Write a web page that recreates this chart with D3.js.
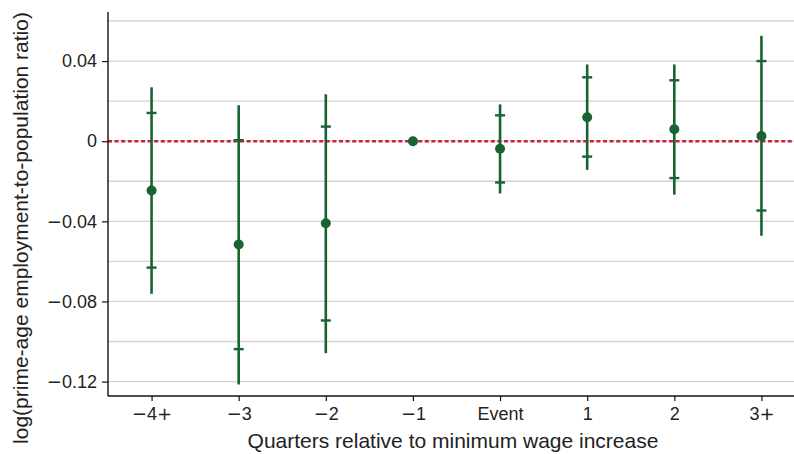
<!DOCTYPE html>
<html><head><meta charset="utf-8">
<script src="https://cdn.jsdelivr.net/npm/d3@7"></script>
<style>
html,body{margin:0;padding:0;background:#fff;}
svg{display:block;font-family:"Liberation Sans",Arial,Helvetica,sans-serif;}
</style></head>
<body>
<svg id="c" width="794" height="454"></svg>
<script>
const categories = ["\u22124+", "\u22123", "\u22122", "\u22121", "Event", "1", "2", "3+"];
const estimates = [-0.0246, -0.0516, -0.0410, 0, -0.0038, 0.0120, 0.0060, 0.0026];
const ci95Low  = [-0.0762, -0.1214, -0.1058, null, -0.0261, -0.0143, -0.0267, -0.0472];
const ci95High = [0.0269, 0.0179, 0.0234, null, 0.0184, 0.0383, 0.0383, 0.0526];
const ci90Low  = [-0.0631, -0.1038, -0.0895, null, -0.0206, -0.0077, -0.0184, -0.0346];
const ci90High = [0.0141, 0.0005, 0.0073, null, 0.0129, 0.0319, 0.0304, 0.0400];
const yTicks = [0.04, 0, -0.04, -0.08, -0.12];
const yGrid = [0.06, 0.04, 0.02, 0, -0.02, -0.04, -0.06, -0.08, -0.10, -0.12];
const yLabel = "log(prime-age employment-to-population ratio)";
const xLabel = "Quarters relative to minimum wage increase";

(function () {
const green = "#186330", red = "#c8203c";
const svg = d3.select("#c");
const mLeft = 108, mRight = 805, mTop = 12, mBottom = 396, W = 794;

const x = d3.scalePoint().domain(categories).range([mLeft, mRight]).padding(0.5);
const y = d3.scaleLinear().domain([-0.1272, 0.0645]).range([mBottom, mTop]);

// gridlines
svg.append("g").selectAll("line").data(yGrid).join("line")
  .attr("x1", mLeft).attr("x2", W)
  .attr("y1", d => y(d)).attr("y2", d => y(d))
  .attr("stroke", "#d4d4d4").attr("stroke-width", 1.3);

// zero reference line
svg.append("line")
  .attr("x1", mLeft).attr("x2", W).attr("y1", y(0)).attr("y2", y(0))
  .attr("stroke", red).attr("stroke-width", 2.4).attr("stroke-dasharray", "4,2.6");

const fmt = d => d === 0 ? "0" : (d < 0 ? "\u2212" : "") + Math.abs(d).toFixed(2);

// wide math minus / plus signs like the original
function mathify(sel) {
  sel.each(function () {
    const t = d3.select(this);
    const s = t.text();
    if (!/[\u2212+]/.test(s)) return;
    t.text(null);
    for (const ch of s) {
      const sp = t.append("tspan").text(ch);
      if (ch === "\u2212" || ch === "+") sp.style("font-family", "'DejaVu Sans'");
    }
  });
}

// y axis
const yAxis = d3.axisLeft(y).tickValues(yTicks).tickFormat(fmt).tickSize(6).tickPadding(5);
const gy = svg.append("g").attr("transform", `translate(${mLeft},0)`).call(yAxis);
gy.select(".domain").attr("d", `M0,${mTop}V${mBottom}`).attr("stroke", "#111").attr("stroke-width", 1.4);
gy.selectAll(".tick line").attr("stroke", "#111").attr("stroke-width", 1.2);
gy.selectAll(".tick text").attr("font-size", 18).attr("fill", "#222")
  .attr("font-family", "Liberation Sans, Arial, sans-serif").call(mathify);

// x axis
const xAxis = d3.axisBottom(x).tickSize(5).tickPadding(6);
const gx = svg.append("g").attr("transform", `translate(0,${mBottom})`).call(xAxis);
gx.select(".domain").attr("d", `M${mLeft},0H${W}`).attr("stroke", "#111").attr("stroke-width", 1.4);
gx.selectAll(".tick line").attr("stroke", "#111").attr("stroke-width", 1.2);
gx.selectAll(".tick text").attr("font-size", 18).attr("fill", "#222")
  .attr("font-family", "Liberation Sans, Arial, sans-serif").call(mathify);

// data rows
const rows = categories.map((c, i) => ({c, est: estimates[i], lo95: ci95Low[i], hi95: ci95High[i], lo90: ci90Low[i], hi90: ci90High[i]}));
const withCI = rows.filter(r => r.lo95 !== null);

svg.append("g").selectAll("line").data(withCI).join("line")
  .attr("x1", d => x(d.c)).attr("x2", d => x(d.c))
  .attr("y1", d => y(d.lo95)).attr("y2", d => y(d.hi95))
  .attr("stroke", green).attr("stroke-width", 2.6);

const caps = [];
withCI.forEach(r => { caps.push({c: r.c, v: r.lo90}); caps.push({c: r.c, v: r.hi90}); });
svg.append("g").selectAll("line").data(caps).join("line")
  .attr("x1", d => x(d.c) - 5).attr("x2", d => x(d.c) + 5)
  .attr("y1", d => y(d.v)).attr("y2", d => y(d.v))
  .attr("stroke", green).attr("stroke-width", 2.4);

svg.append("g").selectAll("circle").data(rows).join("circle")
  .attr("cx", d => x(d.c)).attr("cy", d => y(d.est)).attr("r", 5)
  .attr("fill", green);

// axis titles
svg.append("text").attr("x", (mLeft + W) / 2 + 2).attr("y", 448)
  .attr("text-anchor", "middle").attr("font-size", 21).attr("fill", "#222").text(xLabel);
svg.append("text").attr("transform", "translate(28,228) rotate(-90)")
  .attr("text-anchor", "middle").attr("font-size", 21).attr("fill", "#222").text(yLabel);
})();
</script>
</body></html>
